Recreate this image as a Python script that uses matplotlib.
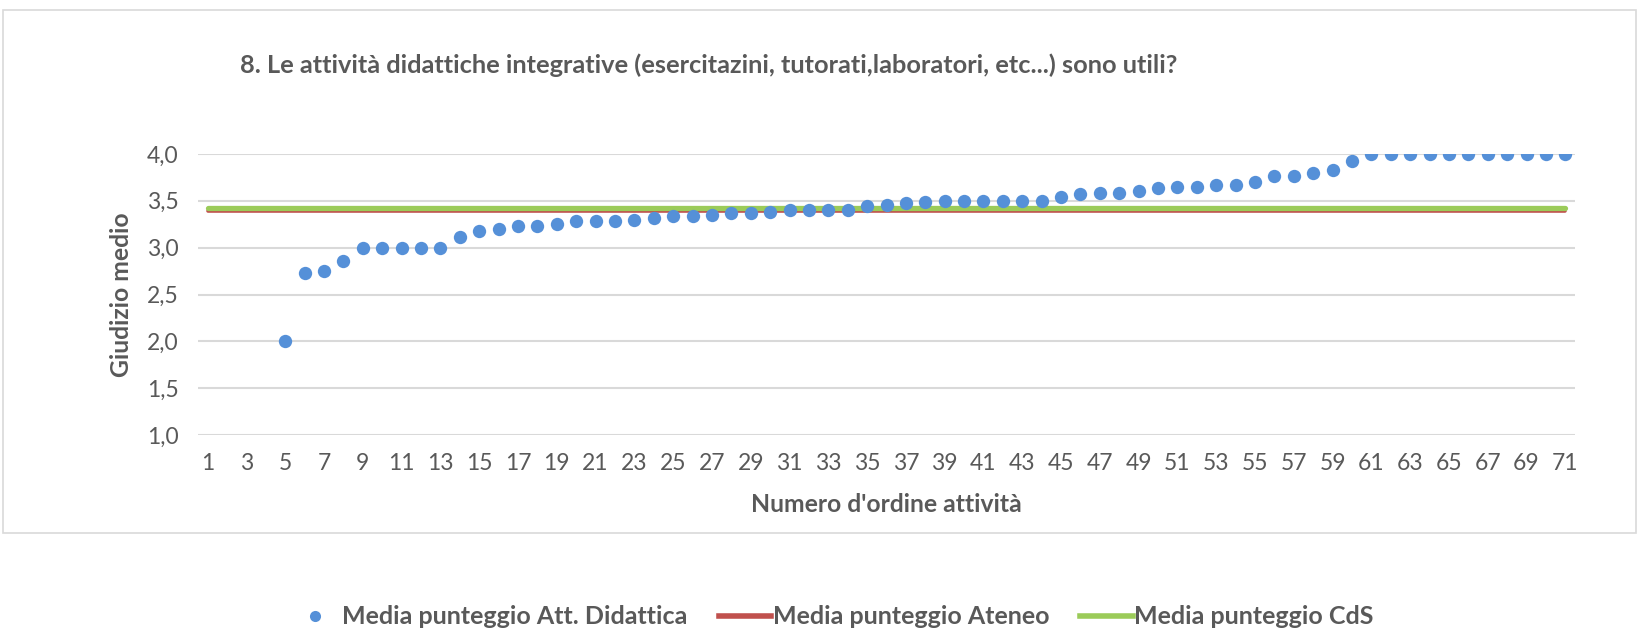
import numpy as np
import matplotlib
matplotlib.use("Agg")
import matplotlib.pyplot as plt
from matplotlib.lines import Line2D
from matplotlib.patches import Rectangle

# ---------------- data ----------------
activity_index = list(range(1, 72))
media_att_didattica = [None, None, None, None,
    2.00, 2.73, 2.75, 2.86, 3.00, 3.00, 3.00, 3.00, 3.00, 3.11, 3.18, 3.20,
    3.23, 3.23, 3.25, 3.29, 3.29, 3.29, 3.30, 3.32, 3.34, 3.34, 3.35, 3.37,
    3.37, 3.38, 3.40, 3.40, 3.40, 3.40, 3.44, 3.46, 3.48, 3.49, 3.50, 3.50,
    3.50, 3.50, 3.50, 3.50, 3.54, 3.57, 3.58, 3.58, 3.61, 3.64, 3.65, 3.65,
    3.67, 3.67, 3.70, 3.76, 3.77, 3.80, 3.83, 3.92, 4.00, 4.00, 4.00, 4.00,
    4.00, 4.00, 4.00, 4.00, 4.00, 4.00, 4.00]
media_ateneo = 3.39
media_cds = 3.42
y_ticks = [1.0, 1.5, 2.0, 2.5, 3.0, 3.5, 4.0]
x_tick_labels = list(range(1, 72, 2))

title = "8. Le attività didattiche integrative (esercitazini, tutorati,laboratori, etc...) sono utili?"
xlabel = "Numero d'ordine attività"
ylabel = "Giudizio medio"
legend_labels = ["Media punteggio Att. Didattica", "Media punteggio Ateneo", "Media punteggio CdS"]

# ---------------- style ----------------
FONT = "Lato"
TXT = "#595959"
BLUE = "#5590D8"
RED = "#C0504D"
GREEN = "#9BCB59"
GRID = "#D9D9D9"

W, H = 1639, 635
fig = plt.figure(figsize=(W / 100, H / 100), dpi=100)
plt.rcParams['font.family'] = [FONT, 'DejaVu Sans']

# chart border
fig.patches.append(Rectangle((3 / W, 1 - 533 / H), (1636 - 3) / W, (533 - 10) / H,
                             transform=fig.transFigure, fill=False,
                             edgecolor="#D9D9D9", linewidth=1.2))

left, right, top, bottom = 198, 1575, 154, 435
ax = fig.add_axes([left / W, 1 - bottom / H, (right - left) / W, (bottom - top) / H])

x = np.array(activity_index, dtype=float)
y = np.array([np.nan if v is None else v for v in media_att_didattica], dtype=float)

ax.plot([x[0], x[-1]], [media_ateneo] * 2, color=RED, lw=2.6, solid_capstyle="round", zorder=3)
ax.plot([x[0], x[-1]], [media_cds] * 2, color=GREEN, lw=3.8, solid_capstyle="round", zorder=4)
ax.plot(x, y, linestyle="none", marker="o", markersize=9.6, color=BLUE,
        markeredgewidth=0, zorder=5)

ax.set_xlim(0.5, 71.5)
ax.set_ylim(1.0, 4.0)
ax.set_yticks(y_ticks)
ax.set_yticklabels([f"{v:.1f}".replace(".", ",") for v in y_ticks])
ax.set_xticks(x_tick_labels)
ax.set_xticklabels([str(v) for v in x_tick_labels])
ax.grid(axis="y", color=GRID, lw=1.5, zorder=0)
ax.set_axisbelow(True)
for s in ax.spines.values():
    s.set_visible(False)
ax.tick_params(axis="both", length=0, labelsize=16.5, colors=TXT)
ax.tick_params(axis="x", pad=13)
ax.tick_params(axis="y", pad=14)

ax.set_xlabel(xlabel, fontsize=17.8, fontweight="bold", color=TXT, labelpad=14)
ax.set_ylabel(ylabel, fontsize=17.8, fontweight="bold", color=TXT, labelpad=10)

fig.text(240 / W, 1 - 65 / H, title, fontsize=18.3, fontweight="bold", color=TXT,
         ha="left", va="center")

handles = [
    Line2D([], [], linestyle="none", marker="o", markersize=8, color=BLUE, markeredgewidth=0),
    Line2D([], [], color=RED, lw=4),
    Line2D([], [], color=GREEN, lw=4),
]
fig.legend(handles, legend_labels, loc="center", bbox_to_anchor=(0.507, 1 - 617 / H),
           ncol=3, frameon=False, prop={"family": FONT, "weight": "bold", "size": 18},
           labelcolor=TXT, handlelength=2.1, handletextpad=0.05, columnspacing=1.25)

fig.savefig("out.png", dpi=100)
